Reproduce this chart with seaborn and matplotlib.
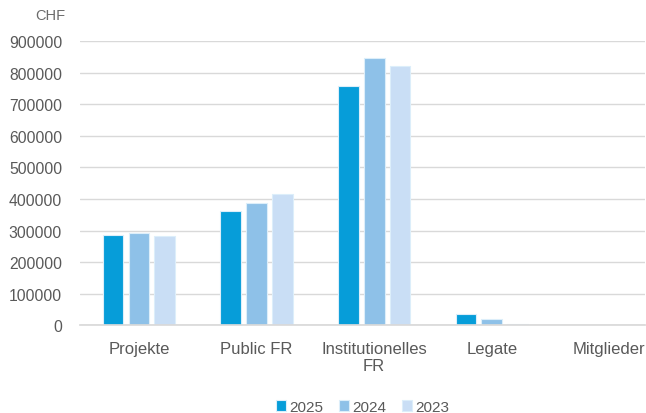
import numpy as np
import pandas as pd
import matplotlib
matplotlib.use("Agg")
import matplotlib.pyplot as plt
import seaborn as sns

categories = ["Projekte", "Public FR", "Institutionelles\nFR", "Legate", "Mitglieder"]
years = ["2025", "2024", "2023"]
values_2025 = [285000, 362000, 757000, 35000, 0]
values_2024 = [291000, 386000, 846000, 20000, 0]
values_2023 = [282000, 415000, 820000, 3000, 0]
colors = ["#069DD9", "#8EC1E8", "#C9DEF5"]

df = pd.DataFrame({
    "Kategorie": categories * 3,
    "Jahr": [y for y in years for _ in categories],
    "CHF": values_2025 + values_2024 + values_2023,
})

sns.set_theme(style="white")
plt.rcParams["font.family"] = ["Liberation Sans", "DejaVu Sans"]

fig, ax = plt.subplots(figsize=(6.46, 4.14), dpi=100)
fig.subplots_adjust(left=0.124, right=0.998, top=0.898, bottom=0.212)

sns.barplot(data=df, x="Kategorie", y="CHF", hue="Jahr", hue_order=years,
            palette=colors, width=0.66, gap=0.2, ax=ax,
            edgecolor="#DCEEFA", linewidth=0.8, saturation=1)

ax.set_ylim(0, 900000)
ax.set_yticks(np.arange(0, 900001, 100000))
ax.set_yticklabels([str(v) for v in range(0, 900001, 100000)])
ax.yaxis.grid(True, color="#D9D9D9", linewidth=1)
ax.set_axisbelow(True)
for s in ["top", "right", "left"]:
    ax.spines[s].set_visible(False)
ax.spines["bottom"].set_color("#D9D9D9")
ax.set_xlim(-0.5, 4.3)
ax.set_xlabel("")
ax.set_ylabel("")
ax.tick_params(axis="both", length=0, colors="#595959")
ax.tick_params(axis="y", pad=13, labelsize=11.3)
ax.tick_params(axis="x", pad=11, labelsize=12)

fig.text(0.054, 0.952, "CHF", color="#6b6b6b", fontsize=10.5)

ax.legend(loc="upper center", bbox_to_anchor=(0.5, -0.215), ncol=3, frameon=False,
          fontsize=11, handlelength=0.7, handleheight=0.7, handletextpad=0.2,
          columnspacing=1.0, labelcolor="#595959")

fig.savefig("out.png", dpi=100)
